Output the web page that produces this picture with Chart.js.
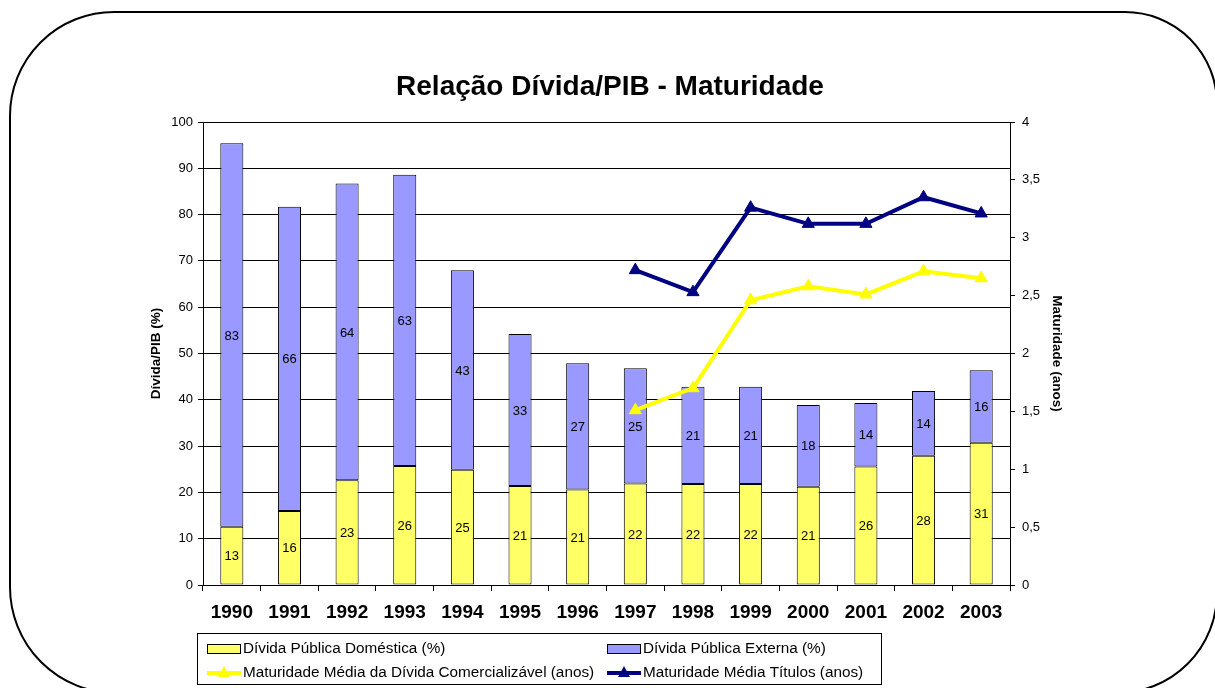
<!DOCTYPE html>
<html>
<head>
<meta charset="utf-8">
<script src="https://cdn.jsdelivr.net/npm/chart.js@4.4.1/dist/chart.umd.min.js"></script>
<style>
  html, body { margin: 0; padding: 0; background: #fff; }
  #wrap { width: 1215px; height: 688px; position: relative; }
</style>
</head>
<body>
<div id="wrap"><canvas id="chart"></canvas></div>
<script>
const anos = ['1990', '1991', '1992', '1993', '1994', '1995', '1996', '1997', '1998', '1999', '2000', '2001', '2002', '2003'];
const dividaDomestica = [12.6, 16.0, 22.6, 25.7, 24.9, 21.4, 20.6, 21.9, 21.8, 21.8, 21.2, 25.6, 27.9, 30.7];
const dividaExterna = [82.8, 65.7, 64.1, 62.9, 43.1, 32.8, 27.3, 24.9, 21.0, 21.0, 17.7, 13.7, 14.0, 15.7];
const maturidadeComercializavel = [null, null, null, null, null, null, null, 1.51, 1.70, 2.46, 2.58, 2.51, 2.71, 2.65];
const maturidadeTitulos = [null, null, null, null, null, null, null, 2.72, 2.53, 3.26, 3.12, 3.12, 3.35, 3.21];

const FONT = 'Arial, "Liberation Sans", sans-serif';

// white background + rounded frame behind everything
const framePlugin = {
  id: 'frame',
  beforeDraw: (chart) => {
    const ctx = chart.ctx;
    ctx.save();
    ctx.fillStyle = '#fff';
    ctx.fillRect(0, 0, chart.width, chart.height);
    ctx.beginPath();
    ctx.roundRect(10, 12, 1207, 681, [104, 92, 100, 106]);
    ctx.lineWidth = 2;
    ctx.strokeStyle = '#000';
    ctx.stroke();
    ctx.restore();
  },
  afterDraw: (chart) => {
    const ctx = chart.ctx;
    ctx.save();
    ctx.fillStyle = '#000';
    ctx.font = 'bold 28px ' + FONT;
    ctx.textAlign = 'center';
    ctx.textBaseline = 'middle';
    ctx.fillText('Relação Dívida/PIB - Maturidade', 610, 87);
    ctx.restore();
  }
};

// value labels in the middle of each bar segment
const barLabels = {
  id: 'barLabels',
  afterDatasetDraw: (chart, args) => {
    const ds = chart.data.datasets[args.index];
    if (ds.type !== 'bar') return;
    const ctx = chart.ctx;
    ctx.save();
    ctx.fillStyle = '#000';
    ctx.font = '13px ' + FONT;
    ctx.textAlign = 'center';
    ctx.textBaseline = 'middle';
    args.meta.data.forEach((bar, i) => {
      const v = ds.data[i];
      if (v == null) return;
      ctx.fillText(String(Math.round(v)), bar.x, (bar.y + bar.base) / 2 + 1);
    });
    ctx.restore();
  }
};

// legend drawn as a boxed 2x2 grid like the original
const legendBox = {
  id: 'legendBox',
  afterDraw: (chart) => {
    const ctx = chart.ctx;
    const ds = chart.data.datasets;
    ctx.save();
    ctx.strokeStyle = '#000';
    ctx.lineWidth = 1;
    ctx.strokeRect(197.5, 633.5, 684, 51);
    const slots = [
      { x: 207, y: 649 }, { x: 607, y: 649 },
      { x: 207, y: 673 }, { x: 607, y: 673 }
    ];
    ds.forEach((d, i) => {
      const s = slots[i];
      if (d.type === 'bar') {
        ctx.fillStyle = d.backgroundColor;
        ctx.fillRect(s.x, s.y - 5, 34, 10);
        ctx.strokeStyle = '#000';
        ctx.lineWidth = 1;
        ctx.strokeRect(s.x + 0.5, s.y - 4.5, 33, 9);
      } else {
        ctx.strokeStyle = d.borderColor;
        ctx.lineWidth = 4;
        ctx.beginPath();
        ctx.moveTo(s.x, s.y);
        ctx.lineTo(s.x + 34, s.y);
        ctx.stroke();
        ctx.fillStyle = d.borderColor;
        ctx.beginPath();
        ctx.moveTo(s.x + 17, s.y - 7);
        ctx.lineTo(s.x + 23, s.y + 4);
        ctx.lineTo(s.x + 11, s.y + 4);
        ctx.closePath();
        ctx.fill();
      }
      ctx.fillStyle = '#000';
      ctx.font = '15.3px ' + FONT;
      ctx.textAlign = 'left';
      ctx.textBaseline = 'middle';
      ctx.fillText(d.label, s.x + 36, s.y);
    });
    ctx.restore();
  }
};

new Chart(document.getElementById('chart'), {
  data: {
    labels: anos,
    datasets: [
      {
        type: 'bar',
        label: 'Dívida Pública Doméstica (%)',
        data: dividaDomestica,
        backgroundColor: '#FFFF66',
        borderColor: '#000',
        borderWidth: 1,
        borderSkipped: false,
        barPercentage: 0.4,
        categoryPercentage: 1,
        yAxisID: 'y',
        order: 2
      },
      {
        type: 'bar',
        label: 'Dívida Pública Externa (%)',
        data: dividaExterna,
        backgroundColor: '#9999FF',
        borderColor: '#000',
        borderWidth: 1,
        borderSkipped: false,
        barPercentage: 0.4,
        categoryPercentage: 1,
        yAxisID: 'y',
        order: 2
      },
      {
        type: 'line',
        label: 'Maturidade Média da Dívida Comercializável (anos)',
        data: maturidadeComercializavel,
        borderColor: '#FFFF00',
        backgroundColor: '#FFFF00',
        borderWidth: 4,
        pointStyle: 'triangle',
        pointRadius: 7,
        pointBorderWidth: 1,
        tension: 0,
        yAxisID: 'y1',
        order: 1
      },
      {
        type: 'line',
        label: 'Maturidade Média Títulos (anos)',
        data: maturidadeTitulos,
        borderColor: '#000080',
        backgroundColor: '#000080',
        borderWidth: 4,
        pointStyle: 'triangle',
        pointRadius: 7,
        pointBorderWidth: 1,
        tension: 0,
        yAxisID: 'y1',
        order: 0
      }
    ]
  },
  options: {
    responsive: true,
    maintainAspectRatio: false,
    animation: false,
    layout: {
      padding: { top: 122, left: 145, right: 147, bottom: 0 }
    },
    scales: {
      x: {
        stacked: true,
        afterFit: (s) => { s.height = 103; },
        grid: {
          display: true,
          offset: true,
          drawOnChartArea: false,
          drawTicks: true,
          tickLength: 6,
          tickColor: '#000'
        },
        border: { display: true, color: '#000', width: 1 },
        ticks: {
          color: '#000',
          padding: 10,
          maxRotation: 0,
          font: { family: FONT, size: 19, weight: 'bold' }
        }
      },
      y: {
        stacked: true,
        position: 'left',
        min: 0,
        max: 100,
        afterFit: (s) => { s.width = 58; },
        grid: {
          color: '#000',
          lineWidth: 1,
          drawTicks: true,
          tickLength: 5,
          tickColor: '#000'
        },
        border: { display: true, color: '#000', width: 1 },
        ticks: {
          stepSize: 10,
          color: '#000',
          padding: 5,
          font: { family: FONT, size: 13 }
        },
        title: {
          display: true,
          text: 'Dívida/PIB (%)',
          color: '#000',
          padding: { top: 3, bottom: 0 },
          font: { family: FONT, size: 13.5, weight: 'bold' }
        }
      },
      y1: {
        stacked: false,
        position: 'right',
        min: 0,
        max: 4,
        afterFit: (s) => { s.width = 58; },
        grid: {
          drawOnChartArea: false,
          drawTicks: true,
          tickLength: 5,
          tickColor: '#000'
        },
        border: { display: true, color: '#000', width: 1 },
        ticks: {
          stepSize: 0.5,
          color: '#000',
          padding: 7,
          font: { family: FONT, size: 13 },
          callback: (v) => String(v).replace('.', ',')
        },
        title: {
          display: true,
          text: 'Maturidade (anos)',
          color: '#000',
          padding: { top: 3, bottom: 0 },
          font: { family: FONT, size: 13.5, weight: 'bold' }
        }
      }
    },
    plugins: {
      legend: { display: false },
      title: { display: false },
      tooltip: { enabled: false }
    }
  },
  plugins: [framePlugin, barLabels, legendBox]
});
</script>
</body>
</html>
